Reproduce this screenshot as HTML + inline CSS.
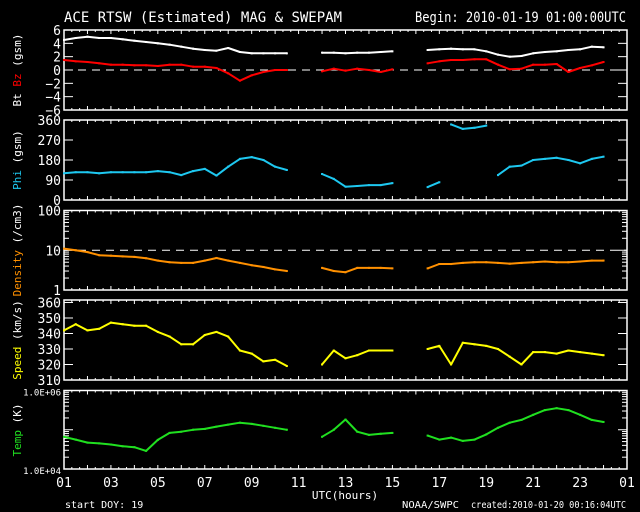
<!DOCTYPE html>
<html><head><meta charset="utf-8"><style>
html,body{margin:0;padding:0;background:#000;width:640px;height:512px;overflow:hidden}
svg{display:block}
text{font-family:"DejaVu Sans Mono","Liberation Mono",monospace;fill:#fff}
</style></head><body>
<svg id="c" width="640" height="512" xmlns="http://www.w3.org/2000/svg">
<text x="64" y="22" font-size="14" textLength="278" lengthAdjust="spacingAndGlyphs">ACE RTSW (Estimated) MAG &amp; SWEPAM</text>
<text x="415" y="22" font-size="14" textLength="211" lengthAdjust="spacingAndGlyphs">Begin: 2010-01-19 01:00:00UTC</text>
<text x="345" y="499" font-size="11" text-anchor="middle">UTC(hours)</text>
<text x="65" y="508" font-size="10">start DOY:  19</text>
<text x="402" y="508" font-size="10" textLength="57" lengthAdjust="spacingAndGlyphs">NOAA/SWPC</text>
<text x="471" y="508" font-size="10" textLength="155" lengthAdjust="spacingAndGlyphs">created:2010-01-20 00:16:04UTC</text>
</svg>
<script>
const hours=[];for(let i=0;i<48;i++)hours.push(i*0.5);
const btVals=[4.5,4.8,5.0,4.8,4.8,4.6,4.4,4.2,4.0,3.8,3.5,3.2,3.0,2.9,3.3,2.7,2.5,2.5,2.5,2.5,null,null,2.6,2.6,2.5,2.6,2.6,2.7,2.8,null,null,3.0,3.1,3.2,3.1,3.1,2.8,2.3,2.0,2.1,2.5,2.7,2.8,3.0,3.1,3.5,3.4,null];
const bzVals=[1.5,1.3,1.2,1.0,0.8,0.8,0.7,0.7,0.6,0.8,0.8,0.5,0.5,0.3,-0.5,-1.6,-0.8,-0.3,0,0,null,null,-0.2,0.2,-0.1,0.2,0,-0.3,0.1,null,null,1.0,1.3,1.5,1.5,1.6,1.6,0.8,0.1,0.2,0.8,0.8,0.9,-0.3,0.3,0.7,1.2,null];
const phiVals=[120,125,125,120,125,125,125,125,130,125,112,130,140,110,150,185,193,180,150,135,null,null,117,95,60,63,67,67,76,null,null,58,80,340,320,325,335,112,150,155,180,185,190,180,165,185,195,null];
const densVals=[11,10,9,7.5,7.3,7,6.8,6.3,5.5,5.0,4.8,4.8,5.5,6.4,5.5,4.8,4.2,3.8,3.3,3.0,null,null,3.6,3.0,2.8,3.6,3.6,3.6,3.5,null,null,3.5,4.5,4.5,4.8,5,5,4.8,4.6,4.8,5,5.2,5,5,5.2,5.5,5.5,null];
const speedVals=[342,346,342,343,347,346,345,345,341,338,333,333,339,341,338,329,327,322,323,319,null,null,320,329,324,326,329,329,329,null,null,330,332,320,334,333,332,330,325,320,328,328,327,329,328,327,326,null];
const tempVals=[66000,56000,47000,45000,42000,38000,36000,29000,55000,83000,89000,100000,105000,120000,135000,151000,141000,126000,112000,100000,null,null,66000,100000,182000,89000,74000,79000,83000,null,null,71000,56000,63000,52000,56000,76000,112000,151000,178000,240000,316000,355000,316000,240000,178000,158000,null];
const xTickLabels=["01","03","05","07","09","11","13","15","17","19","21","23","01"];
const NS="http://www.w3.org/2000/svg";
const svg=document.getElementById('c');
const X0=64,X1=627;
function xs(t){return X0+(X1-X0)*t/24;}
function mk(tag,at,parent){const e=document.createElementNS(NS,tag);for(const k in at)e.setAttribute(k,at[k]);(parent||svg).appendChild(e);return e;}
const panels=[
 {name:'mag',top:30,bot:110,lin:[-6,6],ticks:[-6,-4,-2,0,2,4,6],labels:['−6','−4','−2','0','2','4','6']},
 {name:'phi',top:120,bot:200,lin:[0,360],ticks:[0,90,180,270,360],labels:['0','90','180','270','360']},
 {name:'density',top:210.5,bot:290,log:[0,2],labels:['1','10','100'],ticks:[1,10,100]},
 {name:'speed',top:300,bot:380,lin:[310,361.6],ticks:[310,320,330,340,350,360],labels:['310','320','330','340','350','360']},
 {name:'temp',top:390.5,bot:469,log:[4,6],labels:['1.0E+04','1.0E+06'],ticks:[1e4,1e6]}
];
panels.forEach(p=>{p.y=v=>p.log?p.bot-(Math.log10(v)-p.log[0])/(p.log[1]-p.log[0])*(p.bot-p.top):p.bot-(v-p.lin[0])/(p.lin[1]-p.lin[0])*(p.bot-p.top);});
panels.forEach((p,pi)=>{
 const g=mk('g',{});
 
 
 const r=mk('rect',{x:X0,y:p.top,width:X1-X0,height:p.bot-p.top,fill:'none',stroke:'#fff','stroke-width':1.5},g);
 
 
 for(let k=0;k<=72;k++){const x=xs(k/3);const L=k%3===0?4:2;
  mk('line',{x1:x,x2:x,y1:p.top,y2:p.top+L,stroke:'#fff'},g);
  mk('line',{x1:x,x2:x,y1:p.bot,y2:p.bot-L,stroke:'#fff'},g);}
 let yt=[];
 if(p.log){for(let d=p.log[0];d<p.log[1];d++)for(let m=1;m<10;m++)yt.push([m*Math.pow(10,d),m===1]);yt.push([Math.pow(10,p.log[1]),true]);}
 else p.ticks.forEach(v=>yt.push([v,true]));
 yt.forEach(([v,maj])=>{const y=p.y(v);const L=maj?9:5;
  mk('line',{x1:X0,x2:X0+L,y1:y,y2:y,stroke:'#fff'},g);
  mk('line',{x1:X1,x2:X1-L,y1:y,y2:y,stroke:'#fff'},g);});
 p.ticks.forEach((v,i)=>{const t=mk('text',{x:X0-3,y:p.y(v)+5,'font-size':p.name==='temp'?9:13,'text-anchor':'end'},g);t.textContent=p.labels[i];
  
  });
});
const d1=mk('line',{x1:X0,x2:X1,y1:panels[0].y(0),y2:panels[0].y(0),stroke:'#fff','stroke-dasharray':'8 6'});


const d2=mk('line',{x1:X0,x2:X1,y1:panels[2].y(10),y2:panels[2].y(10),stroke:'#fff','stroke-dasharray':'8 6'});


function series(vals,p,color,name,jump){
 const g=mk('g',{});
 
 
 let d='',prev=null;
 vals.forEach((v,i)=>{if(v==null){prev=null;return;}
  const x=xs(hours[i]),y=p.y(v);
  if(prev==null||(jump&&Math.abs(v-prev)>jump))d+='M'+x.toFixed(1)+' '+y.toFixed(1);else d+='L'+x.toFixed(1)+' '+y.toFixed(1);
  prev=v;
  const c=mk('rect',{x:x-1,y:y-1,width:2,height:2,fill:color},g);
  
  });
 const pa=mk('path',{d:d,fill:'none',stroke:color,'stroke-width':2,'stroke-linejoin':'round'},g);
 
 
}
series(btVals,panels[0],'#fff','bt');
series(bzVals,panels[0],'#f00','bz');
series(phiVals,panels[1],'#1ec8f0','phi',150);
series(densVals,panels[2],'#ff9000','density');
series(speedVals,panels[3],'#ffff00','speed');
series(tempVals,panels[4],'#20e020','temp');
xTickLabels.forEach((l,i)=>{const t=mk('text',{x:xs(i*2),y:487,'font-size':13,'text-anchor':'middle'});t.textContent=l;
 
 });
const titles=[
 {y:70,parts:[['Bt ','#fff'],['Bz','#f00'],[' (gsm)','#fff']],n:'mag-y-title'},
 {y:160,parts:[['Phi','#1ec8f0'],[' (gsm)','#fff']],n:'phi-y-title'},
 {y:250,parts:[['Density','#ff9000'],[' (/cm3)','#fff']],n:'density-y-title'},
 {y:340,parts:[['Speed','#ffff00'],[' (km/s)','#fff']],n:'speed-y-title'},
 {y:430,parts:[['Temp','#20e020'],[' (K)','#fff']],n:'temp-y-title'}];
titles.forEach(tt=>{const t=mk('text',{x:0,y:0,'font-size':11,'text-anchor':'middle',transform:'translate(21,'+tt.y+') rotate(-90)'});
 
 
 tt.parts.forEach(([s,c])=>{const sp=mk('tspan',{fill:c},t);sp.textContent=s;});});
</script>
</body></html>
